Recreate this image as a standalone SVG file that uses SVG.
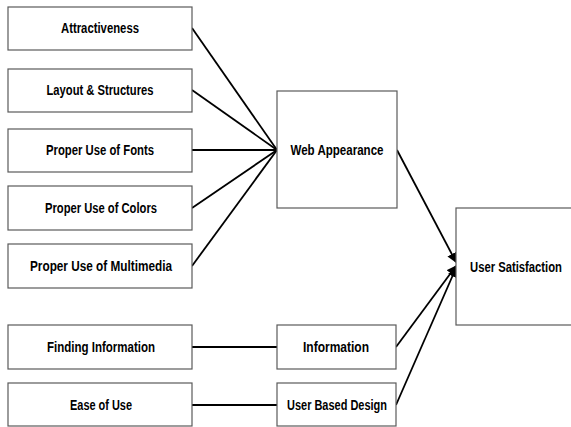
<svg xmlns="http://www.w3.org/2000/svg" width="571" height="427" viewBox="0 0 571 427">
  <style>
    .box { fill: #ffffff; stroke: #5a5a5a; stroke-width: 1.2; }
    .lbl { font-family: "Liberation Sans", Arial, sans-serif; font-weight: bold; font-size: 14px; fill: #000; text-anchor: middle; }
    .link { stroke: #000; stroke-width: 1.8; fill: none; }
    .arrow { stroke: #000; stroke-width: 1.8; fill: none; marker-end: url(#head); }
  </style>
  <defs>
    <marker id="head" viewBox="0 0 10 10" refX="9" refY="5" markerWidth="5.5" markerHeight="5.5" orient="auto" markerUnits="strokeWidth">
      <path d="M0,0 L10,5 L0,10 Z" fill="#000"/>
    </marker>
  </defs>
  <rect width="571" height="427" fill="#ffffff"/>

  <g id="connectors">
    <line class="link" x1="192" y1="28" x2="277" y2="150"/>
    <line class="link" x1="192" y1="90" x2="277" y2="150"/>
    <line class="link" x1="192" y1="150" x2="277" y2="150"/>
    <line class="link" x1="192" y1="208" x2="277" y2="150"/>
    <line class="link" x1="192" y1="266" x2="277" y2="150"/>
    <line class="link" x1="192" y1="347" x2="277" y2="347"/>
    <line class="link" x1="192" y1="405" x2="277" y2="405"/>
    <line class="arrow" x1="397" y1="150" x2="456" y2="262"/>
    <line class="arrow" x1="396" y1="347" x2="456" y2="266"/>
    <line class="arrow" x1="396" y1="405" x2="456" y2="268"/>
  </g>

  <g id="attractiveness">
    <rect class="box" x="8" y="7" width="184" height="43"/>
    <text class="lbl" x="100" y="33" textLength="78" lengthAdjust="spacingAndGlyphs">Attractiveness</text>
  </g>
  <g id="layout">
    <rect class="box" x="8" y="69" width="184" height="43"/>
    <text class="lbl" x="100" y="95" textLength="107" lengthAdjust="spacingAndGlyphs">Layout &amp; Structures</text>
  </g>
  <g id="fonts">
    <rect class="box" x="8" y="129" width="184" height="43"/>
    <text class="lbl" x="100" y="155" textLength="108" lengthAdjust="spacingAndGlyphs">Proper Use of Fonts</text>
  </g>
  <g id="colors">
    <rect class="box" x="8" y="186" width="184" height="44"/>
    <text class="lbl" x="101" y="213" textLength="112" lengthAdjust="spacingAndGlyphs">Proper Use of Colors</text>
  </g>
  <g id="multimedia">
    <rect class="box" x="8" y="244" width="184" height="44"/>
    <text class="lbl" x="101" y="271" textLength="142" lengthAdjust="spacingAndGlyphs">Proper Use of Multimedia</text>
  </g>
  <g id="finding-information">
    <rect class="box" x="8" y="325" width="184" height="44"/>
    <text class="lbl" x="101" y="352" textLength="108" lengthAdjust="spacingAndGlyphs">Finding Information</text>
  </g>
  <g id="ease-of-use">
    <rect class="box" x="8" y="383" width="184" height="43"/>
    <text class="lbl" x="101" y="410" textLength="62" lengthAdjust="spacingAndGlyphs">Ease of Use</text>
  </g>
  <g id="web-appearance">
    <rect class="box" x="277" y="91" width="120" height="117"/>
    <text class="lbl" x="337" y="155" textLength="93" lengthAdjust="spacingAndGlyphs">Web Appearance</text>
  </g>
  <g id="information">
    <rect class="box" x="277" y="325" width="119" height="44"/>
    <text class="lbl" x="336" y="352" textLength="66" lengthAdjust="spacingAndGlyphs">Information</text>
  </g>
  <g id="user-based-design">
    <rect class="box" x="277" y="383" width="119" height="43"/>
    <text class="lbl" x="337" y="410" textLength="100" lengthAdjust="spacingAndGlyphs">User Based Design</text>
  </g>
  <g id="user-satisfaction">
    <rect class="box" x="456" y="208" width="116" height="117"/>
    <text class="lbl" x="516" y="272" textLength="92" lengthAdjust="spacingAndGlyphs">User Satisfaction</text>
  </g>
</svg>
